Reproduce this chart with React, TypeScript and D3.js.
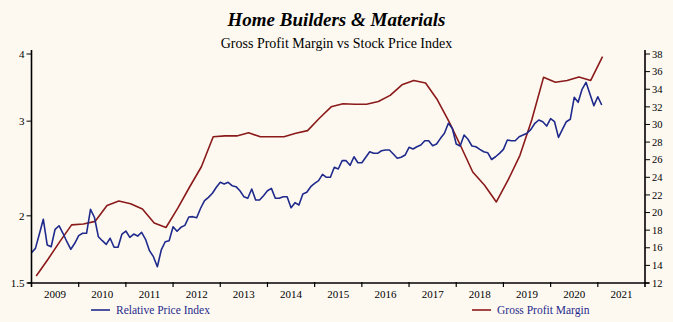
import React from "react";
import * as d3 from "d3";

const W = 673;
const H = 322;

const years = [2009, 2010, 2011, 2012, 2013, 2014, 2015, 2016, 2017, 2018, 2019, 2020, 2021];
const leftTicks = [1.5, 2, 3, 4];
const rightTicks = [12, 14, 16, 18, 20, 22, 24, 26, 28, 30, 32, 34, 36, 38];

// Relative Price Index, monthly from Jan 2009
const priceStart = 2009.0;
const priceIndex = [
  1.708, 1.74, 1.85, 1.971, 1.765, 1.752, 1.888, 1.917, 1.856, 1.79, 1.733, 1.778,
  1.837, 1.856, 1.856, 2.057, 1.988, 1.829, 1.798, 1.77, 1.817, 1.748, 1.748, 1.85,
  1.874, 1.824, 1.85, 1.834, 1.864, 1.809, 1.723, 1.679, 1.608, 1.728, 1.79, 1.798,
  1.909, 1.872, 1.904, 1.92, 1.99, 1.993, 1.984, 2.066, 2.134, 2.165, 2.203, 2.26,
  2.309, 2.292, 2.309, 2.276, 2.266, 2.227, 2.171, 2.156, 2.244, 2.14, 2.14, 2.18,
  2.227, 2.25, 2.156, 2.156, 2.171, 2.171, 2.071, 2.116, 2.095, 2.196, 2.212, 2.266,
  2.299, 2.325, 2.389, 2.359, 2.359, 2.462, 2.444, 2.533, 2.533, 2.483, 2.576, 2.511,
  2.511, 2.57, 2.632, 2.614, 2.614, 2.643, 2.651, 2.651, 2.606, 2.559, 2.57, 2.595,
  2.682, 2.663, 2.689, 2.709, 2.759, 2.759, 2.701, 2.72, 2.787, 2.848, 2.973, 2.91,
  2.72, 2.697, 2.827, 2.776, 2.697, 2.689, 2.659, 2.632, 2.621, 2.546, 2.576, 2.614,
  2.659, 2.767, 2.759, 2.759, 2.807, 2.827, 2.848, 2.897, 2.973, 3.015, 2.993, 2.938,
  3.032, 2.993, 2.799, 2.897, 2.993, 3.024, 3.323, 3.252, 3.439, 3.543, 3.37, 3.206,
  3.331, 3.215,
];

// Gross Profit Margin, quarterly
const marginStart = 2009.1;
const grossMargin = [
  12.8, 14.7, 16.7, 18.6, 18.7, 19.0, 20.8, 21.3, 21.0, 20.4, 18.8, 18.3,
  20.5, 22.9, 25.2, 28.6, 28.7, 28.7, 29.06, 28.6, 28.6, 28.6, 29.0, 29.3,
  30.7, 32.0, 32.35, 32.3, 32.3, 32.6, 33.3, 34.5, 35.0, 34.7, 32.8, 30.3,
  27.5, 24.6, 23.1, 21.2, 23.7, 26.5, 30.5, 35.35, 34.8, 35.0, 35.4, 35.0,
  37.7,
];

const BLUE = "#1f2a8c";
const RED = "#8b1a1a";
const BG = "#fdf9f1";
const FONT = "'Liberation Serif', 'Times New Roman', serif";

export default function App() {
  const left = 31.5;
  const right = 645;
  const top = 54;
  const bottom = 283;

  const x = d3.scaleLinear().domain([2009, 2022]).range([left, right]);
  const yL = d3.scaleLog().domain([1.5, 4]).range([bottom, top]);
  const yR = d3.scaleLinear().domain([12, 38]).range([bottom, top]);

  const priceLine = d3
    .line<number>()
    .x((_, i) => x(priceStart + i / 12))
    .y((d) => yL(d));
  const marginLine = d3
    .line<number>()
    .x((_, i) => x(marginStart + i * 0.25))
    .y((d) => yR(d));

  return (
    <svg
      width={W}
      height={H}
      style={{ position: "absolute", left: 0, top: 0, display: "block" }}
      fontFamily={FONT}
    >
      <rect x={0} y={0} width={W} height={H} fill={BG} />
      <text x={W / 2} y={26} textAnchor="middle" fontSize={19} fontWeight="bold" fontStyle="italic" fill="#000">
        Home Builders &amp; Materials
      </text>
      <text x={W / 2} y={48} textAnchor="middle" fontSize={14} fill="#000">
        Gross Profit Margin vs Stock Price Index
      </text>

      {/* data lines */}
      <path d={marginLine(grossMargin) || ""} fill="none" stroke={RED} strokeWidth={1.6} strokeLinejoin="round" />
      <path d={priceLine(priceIndex) || ""} fill="none" stroke={BLUE} strokeWidth={1.6} strokeLinejoin="round" />

      {/* axes */}
      <line x1={left} x2={left} y1={50} y2={bottom + 4} stroke="#000" strokeWidth={1.6} />
      <line x1={right} x2={right} y1={50} y2={bottom + 4} stroke="#000" strokeWidth={1.6} />
      <line x1={left - 4} x2={right + 4} y1={bottom} y2={bottom} stroke="#000" strokeWidth={1.6} />

      {leftTicks.map((t) => (
        <g key={"l" + t}>
          <line x1={left - 5} x2={left} y1={yL(t)} y2={yL(t)} stroke="#000" strokeWidth={1} />
          <text x={left - 7} y={yL(t)} dy="0.35em" textAnchor="end" fontSize={11} fill="#000">
            {t}
          </text>
        </g>
      ))}

      {rightTicks.map((t) => (
        <g key={"r" + t}>
          <line x1={right} x2={right + 5} y1={yR(t)} y2={yR(t)} stroke="#000" strokeWidth={1} />
          <text x={right + 7} y={yR(t)} dy="0.35em" textAnchor="start" fontSize={10.5} fill="#000">
            {t}
          </text>
        </g>
      ))}

      {years.map((yr) => (
        <g key={"y" + yr}>
          {yr > 2009 && (
            <line x1={x(yr)} x2={x(yr)} y1={bottom - 1} y2={bottom + 4} stroke="#000" strokeWidth={1.2} />
          )}
          <text x={x(yr + 0.5)} y={298} textAnchor="middle" fontSize={11} fill="#000">
            {yr}
          </text>
        </g>
      ))}

      {/* legend */}
      <line x1={91} x2={110} y1={310} y2={310} stroke={BLUE} strokeWidth={1.6} />
      <text x={116} y={314} fontSize={11.5} fill={BLUE}>
        Relative Price Index
      </text>
      <line x1={472} x2={491} y1={310} y2={310} stroke={RED} strokeWidth={1.6} />
      <text x={497} y={314} fontSize={11.5} fill={BLUE}>
        Gross Profit Margin
      </text>
    </svg>
  );
}
